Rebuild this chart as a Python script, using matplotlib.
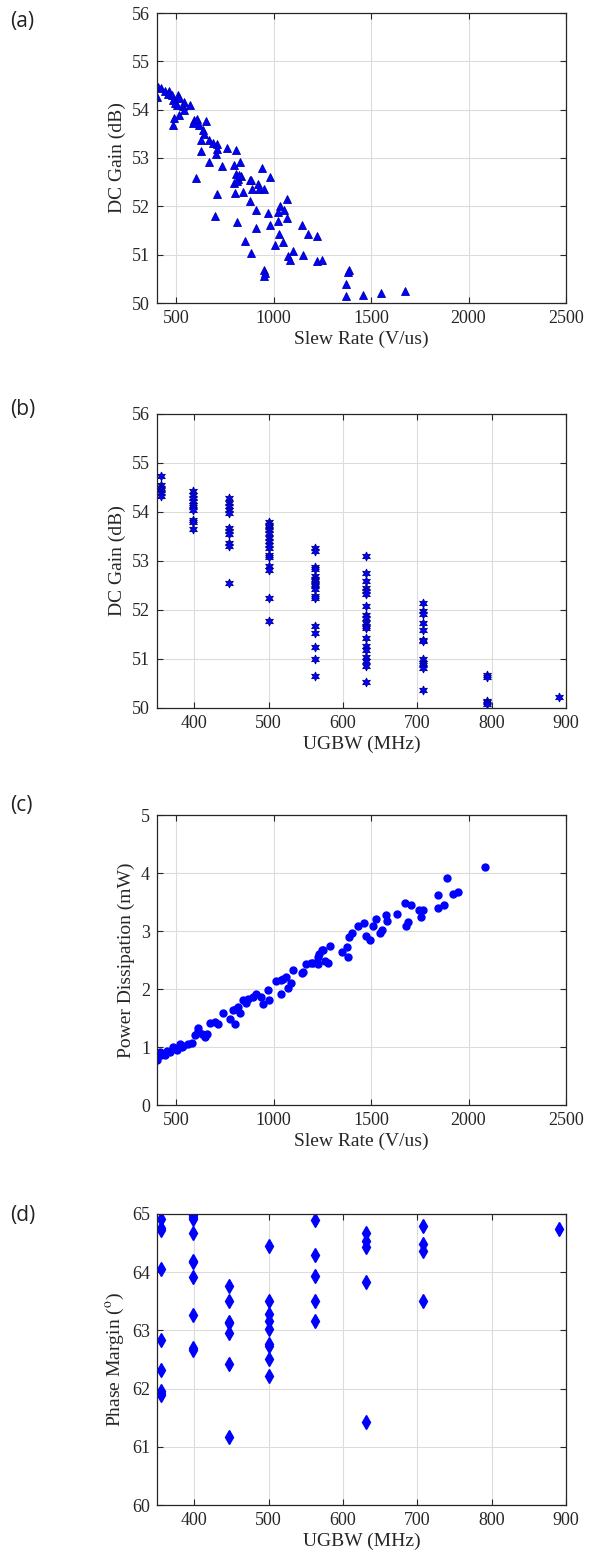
import matplotlib
matplotlib.use("Agg")
import matplotlib.pyplot as plt

plt.rcParams['font.family'] = ['Liberation Serif', 'DejaVu Serif']
plt.rcParams['mathtext.fontset'] = 'stix'

# (a) DC gain vs slew rate
sr_a = [407, 420, 403, 441, 466, 458, 478, 508, 517, 483, 492, 542, 573, 534, 505, 539, 517, 488, 485,
        593, 606, 653, 585, 619, 636, 644, 627, 670, 687, 712, 712, 763, 809, 704, 627, 670, 737, 797,
        826, 602, 941, 980, 805, 817, 797, 831, 881, 885, 919, 890, 924, 949, 800, 842, 881, 1068,
        912, 1034, 1051, 1025, 970, 810, 1068, 1025, 983, 1144, 908, 1030, 1178, 1225, 851, 1047,
        1005, 1100, 885, 1153, 1075, 1083, 1224, 1246, 953, 958, 953, 1385, 1381, 1373, 1373, 1458,
        1553, 1673, 701, 711, 812, 822]
gain_a = [54.47, 54.45, 54.26, 54.39, 54.38, 54.32, 54.31, 54.31, 54.24, 54.19, 54.14, 54.16, 54.09,
          54.07, 54.09, 53.99, 53.89, 53.82, 53.68, 53.78, 53.80, 53.77, 53.72, 53.68, 53.58, 53.50,
          53.38, 53.38, 53.32, 53.28, 53.19, 53.21, 53.16, 53.09, 53.14, 52.92, 52.84, 52.85, 52.92,
          52.59, 52.80, 52.60, 52.67, 52.57, 52.49, 52.62, 52.55, 52.54, 52.47, 52.35, 52.35, 52.36,
          52.28, 52.29, 52.12, 52.16, 51.92, 52.00, 51.92, 51.88, 51.86, 51.68, 51.75, 51.70, 51.62,
          51.62, 51.56, 51.42, 51.42, 51.39, 51.28, 51.27, 51.21, 51.08, 51.03, 51.00, 50.98, 50.88,
          50.86, 50.90, 50.69, 50.62, 50.55, 50.69, 50.65, 50.40, 50.14, 50.16, 50.21, 50.25, 51.80,
          52.26, 52.53, 52.64]

# (b) DC gain vs UGBW (discrete UGBW steps)
ugbw_b = [355] * 6 + [398] * 10 + [447] * 11 + [501] * 15 + [562] * 17 + [631] * 19 + [708] * 12 \
    + [794] * 5 + [891]
gain_b = [54.73, 54.56, 54.49, 54.44, 54.39, 54.33,
          54.42, 54.35, 54.29, 54.22, 54.15, 54.10, 54.05, 53.84, 53.79, 53.65,
          54.29, 54.18, 54.12, 54.05, 53.98, 53.67, 53.62, 53.56, 53.37, 53.31, 52.55,
          53.80, 53.74, 53.69, 53.64, 53.57, 53.47, 53.40, 53.33, 53.27, 53.13, 53.08, 52.89, 52.82,
          52.24, 51.78,
          53.27, 53.20, 52.88, 52.84, 52.69, 52.63, 52.59, 52.54, 52.48, 52.43, 52.29, 52.24, 51.67,
          51.53, 51.24, 50.99, 50.65,
          53.11, 52.76, 52.59, 52.45, 52.39, 52.32, 52.09, 51.89, 51.84, 51.73, 51.67, 51.63, 51.43,
          51.26, 51.19, 51.04, 50.95, 50.85, 50.54,
          52.15, 51.98, 51.91, 51.74, 51.60, 51.38, 51.36, 50.99, 50.92, 50.87, 50.82, 50.37,
          50.68, 50.64, 50.15, 50.12, 50.08,
          50.23]

# (c) power vs slew rate
sr_c = [402, 420, 418, 444, 469, 486, 503, 520, 537, 563, 580, 597, 614, 631, 648, 673, 699, 716,
        741, 775, 801, 792, 818, 826, 843, 869, 894, 911, 937, 945, 971, 979, 1010, 1039, 1065, 1073,
        1039, 1098, 1149, 1167, 1200, 1234, 1251, 1265, 1146, 1192, 1226, 1248, 1226, 1277, 1289,
        1350, 1384, 1379, 1388, 1401, 1435, 1464, 1472, 1493, 1510, 1527, 1544, 1554, 1578, 1583,
        1634, 1673, 1707, 1680, 1690, 1744, 1758, 1769, 1843, 1843, 1872, 1892, 1920, 1945, 2085,
        455, 530, 610, 660, 805, 860, 1050, 1090]
power_c = [0.77, 0.87, 0.91, 0.87, 0.91, 1.00, 0.94, 1.05, 1.02, 1.05, 1.07, 1.20, 1.32, 1.23, 1.17,
           1.41, 1.43, 1.39, 1.58, 1.49, 1.40, 1.63, 1.69, 1.58, 1.81, 1.82, 1.86, 1.92, 1.86, 1.74,
           1.99, 1.81, 2.14, 2.15, 2.20, 2.01, 1.91, 2.32, 2.29, 2.43, 2.44, 2.60, 2.67, 2.48, 2.28,
           2.44, 2.56, 2.67, 2.43, 2.44, 2.74, 2.64, 2.56, 2.72, 2.89, 2.97, 3.08, 3.13, 2.91, 2.84,
           3.08, 3.21, 2.97, 3.01, 3.27, 3.18, 3.30, 3.49, 3.44, 3.08, 3.16, 3.37, 3.25, 3.37, 3.62,
           3.40, 3.44, 3.91, 3.63, 3.67, 4.10,
           0.93, 1.00, 1.27, 1.22, 1.65, 1.76, 2.18, 2.10]

# (d) phase margin vs UGBW
ugbw_d = [355] * 9 + [398] * 10 + [447] * 7 + [501] * 9 + [562] * 5 + [631] * 5 + [708] * 4 + [891]
pm_d = [64.92, 64.76, 64.73, 64.05, 62.84, 62.32, 61.96, 61.92, 61.89,
        64.99, 64.95, 64.92, 64.67, 64.20, 64.17, 63.92, 63.27, 62.69, 62.66,
        63.77, 63.51, 63.15, 63.12, 62.96, 62.42, 61.16,
        64.45, 63.51, 63.28, 63.17, 63.02, 62.77, 62.73, 62.51, 62.22,
        64.90, 64.30, 63.94, 63.51, 63.17,
        64.68, 64.53, 64.43, 63.84, 61.42,
        64.80, 64.49, 64.36, 63.51,
        64.74]

W, H = 598, 1553
fig = plt.figure(figsize=(W / 100, H / 100), dpi=100)


def make_axes(top, bottom, left=157, right=566):
    return fig.add_axes([left / W, 1 - bottom / H, (right - left) / W, (bottom - top) / H])


def style(ax, xlim, xticks, ylim, yticks, xlabel, ylabel, letter, letter_y):
    ax.set_xlim(xlim)
    ax.set_ylim(ylim)
    ax.set_xticks(xticks)
    ax.set_yticks(yticks)
    ax.grid(True, color='#dcdcdc', linewidth=0.8)
    ax.set_axisbelow(True)
    ax.tick_params(direction='in', top=True, right=True, length=4, width=0.8,
                   color='#262626', labelsize=13, labelcolor='#262626', pad=5)
    for s in ax.spines.values():
        s.set_color('#262626')
        s.set_linewidth(0.9)
    ax.set_xlabel(xlabel, fontsize=14, color='#262626', labelpad=3)
    ax.set_ylabel(ylabel, fontsize=14, color='#262626', labelpad=4)
    fig.text(10 / W, 1 - letter_y / H, letter, fontsize=15, family='Open Sans', va='center',
             ha='left', color='#222222')


ax = make_axes(13, 303)
ax.plot(sr_a, gain_a, '^', color='blue', markersize=5.5, markeredgecolor='#0000aa', markeredgewidth=0.6)
style(ax, (402, 2500), [500, 1000, 1500, 2000, 2500], (50, 56), range(50, 57),
      'Slew Rate (V/us)', 'DC Gain (dB)', '(a)', 22)

ax = make_axes(414, 708)
ax.plot(ugbw_b, gain_b, marker=(6, 1, 0), linestyle='none', color='blue', markersize=6.5,
        markeredgecolor='#000090', markeredgewidth=0.6)
style(ax, (350, 900), [400, 500, 600, 700, 800, 900], (50, 56), range(50, 57),
      'UGBW (MHz)', 'DC Gain (dB)', '(b)', 409)

ax = make_axes(815, 1105)
ax.plot(sr_c, power_c, 'o', color='blue', markersize=5, markeredgecolor='blue')
style(ax, (402, 2500), [500, 1000, 1500, 2000, 2500], (0, 5), range(0, 6),
      'Slew Rate (V/us)', 'Power Dissipation (mW)', '(c)', 806)

ax = make_axes(1214, 1505)
ax.plot(ugbw_d, pm_d, 'd', color='blue', markersize=7, markeredgecolor='blue')
style(ax, (350, 900), [400, 500, 600, 700, 800, 900], (60, 65), range(60, 66),
      'UGBW (MHz)', r'Phase Margin ($^\mathrm{o}$)', '(d)', 1215)

fig.savefig('out.png', dpi=100)
